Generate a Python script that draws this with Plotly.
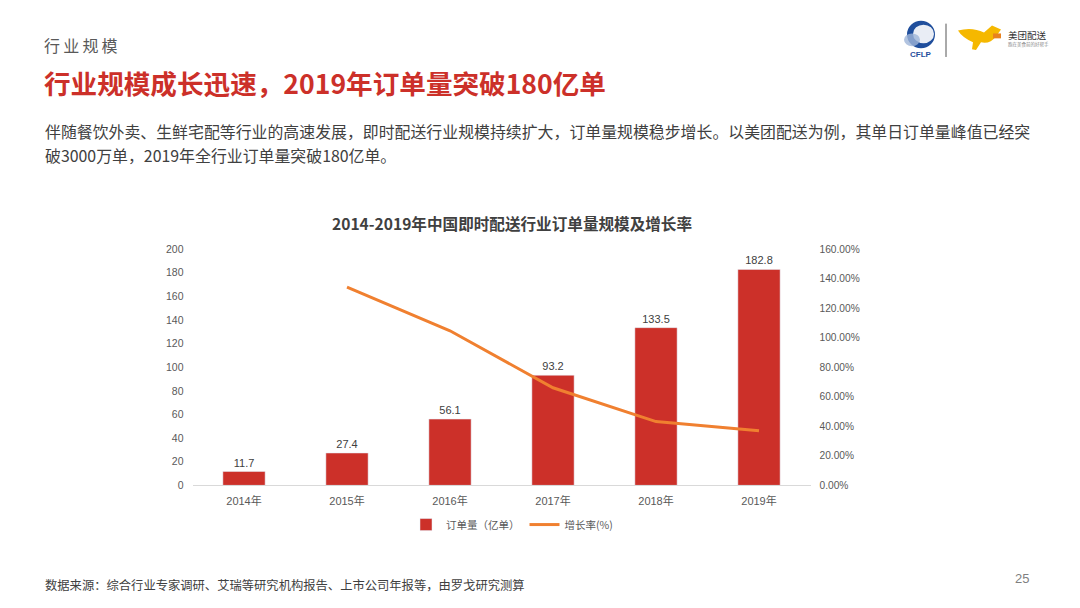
import plotly.graph_objects as go

years = ["2014年", "2015年", "2016年", "2017年", "2018年", "2019年"]
orders = [11.7, 27.4, 56.1, 93.2, 133.5, 182.8]
growth_years = ["2015年", "2016年", "2017年", "2018年", "2019年"]
growth = [134.2, 104.7, 66.1, 43.2, 36.9]
left_ticks = [0, 20, 40, 60, 80, 100, 120, 140, 160, 180, 200]
right_ticks = [0, 20, 40, 60, 80, 100, 120, 140, 160]
right_tick_text = [f"{v:.2f}%" for v in right_ticks]

RED = "#cc3029"
ORANGE = "#f08030"
FONT = "Liberation Sans, Noto Sans CJK SC, sans-serif"
CJK = "Noto Sans CJK SC, Liberation Sans, sans-serif"

W, H = 1080, 608
def px(x): return x / W
def py(y): return 1 - y / H

fig = go.Figure()
fig.add_trace(go.Bar(
    x=years, y=orders, name="订单量（亿单）", marker_color=RED, width=0.41,
    text=[f"{v}" for v in orders], textposition="outside",
    textfont=dict(size=11, color="#404040", family=FONT), cliponaxis=False,
))
fig.add_trace(go.Scatter(
    x=growth_years, y=growth, name="增长率(%)", mode="lines",
    line=dict(color=ORANGE, width=3), yaxis="y2",
))

fig.update_layout(
    width=W, height=H, margin=dict(l=0, r=0, t=0, b=0),
    paper_bgcolor="white", plot_bgcolor="white",
    font=dict(family=CJK, color="#595959"),
    showlegend=True,
    legend=dict(orientation="h", x=px(512), xanchor="center", y=py(529), yanchor="middle",
                font=dict(size=10.5, color="#595959", family=CJK), itemwidth=30,
                traceorder="normal"),
    xaxis=dict(domain=[px(192.5), px(810.5)], showline=True, linecolor="#d9d9d9", linewidth=1,
               ticks="", tickfont=dict(size=11, color="#595959", family=FONT), showgrid=False,
               anchor="y", ticklabelstandoff=5),
    yaxis=dict(domain=[py(489), py(248)], range=[0, 200], tickvals=left_ticks, showgrid=False,
               zeroline=False, showline=False, tickfont=dict(size=10.5, color="#595959", family=FONT),
               ticklabelstandoff=8),
    yaxis2=dict(overlaying="y", side="right", range=[0, 160], tickvals=right_ticks,
                ticktext=right_tick_text, showgrid=False, zeroline=False, showline=False,
                tickfont=dict(size=10.2, color="#595959", family=FONT), anchor="x",
                ticklabelstandoff=8),
)

ann = []
ann.append(dict(text="行\u2009业\u2009规\u2009模", x=px(42), y=py(40), xanchor="left", yanchor="middle",
                font=dict(size=16, color="#595959", family=CJK)))
ann.append(dict(text="<b>行业规模成长迅速，2019年订单量突破180亿单</b>", x=px(42), y=py(78),
                xanchor="left", yanchor="middle", font=dict(size=26.6, color=RED, family=CJK)))
ann.append(dict(text="伴随餐饮外卖、生鲜宅配等行业的高速发展，即时配送行业规模持续扩大，订单量规模稳步增长。以美团配送为例，其单日订单量峰值已经突",
                x=px(43), y=py(128), xanchor="left", yanchor="middle",
                font=dict(size=15.9, color="#404040", family=CJK)))
ann.append(dict(text="破3000万单，2019年全行业订单量突破180亿单。",
                x=px(43), y=py(152), xanchor="left", yanchor="middle",
                font=dict(size=15.9, color="#404040", family=CJK)))
ann.append(dict(text="<b>2014-2019年中国即时配送行业订单量规模及增长率</b>", x=px(512), y=py(221),
                xanchor="center", yanchor="middle", font=dict(size=15.6, color="#404040", family=CJK)))
ann.append(dict(text="数据来源：综合行业专家调研、艾瑞等研究机构报告、上市公司年报等，由罗戈研究测算",
                x=px(43), y=py(591), xanchor="left", yanchor="middle",
                font=dict(size=12.3, color="#404040", family=CJK)))
ann.append(dict(text="25", x=px(1022), y=py(584), xanchor="center", yanchor="middle",
                font=dict(size=13, color="#7f7f7f", family=FONT)))
# logos
ann.append(dict(text="<b>CFLP</b>", x=px(921), y=py(49), xanchor="center", yanchor="middle",
                font=dict(size=8, color="#1f4e9c", family=FONT)))
ann.append(dict(text="美团配送", x=px(1006), y=py(30), xanchor="left", yanchor="middle",
                font=dict(size=9.5, color="#333333", family=CJK)))
ann.append(dict(text="跑在美食前的好帮手", x=px(1006), y=py(39), xanchor="left", yanchor="middle",
                font=dict(size=4.5, color="#888888", family=CJK)))
for a in ann:
    a.update(xref="paper", yref="paper", showarrow=False)
fig.update_layout(annotations=ann)

shapes = [
    dict(type="circle", xref="paper", yref="paper", x0=px(907), x1=px(935), y0=py(43), y1=py(15),
         fillcolor="#1f4e9c", line=dict(width=0)),
    dict(type="circle", xref="paper", yref="paper", x0=px(913), x1=px(934), y0=py(38), y1=py(19),
         fillcolor="white", line=dict(width=0), opacity=0.9),
    dict(type="circle", xref="paper", yref="paper", x0=px(904), x1=px(920), y0=py(41), y1=py(28),
         fillcolor="#9fb5d8", line=dict(width=0), opacity=0.8),
    dict(type="line", xref="paper", yref="paper", x0=px(946), x1=px(946), y0=py(18), y1=py(52),
         line=dict(color="#555555", width=1)),
    dict(type="path", xref="paper", yref="paper",
         path=f"M {px(958)},{py(25)} Q {px(972)},{py(21)} {px(984)},{py(27)} L {px(992)},{py(20)} "
              f"L {px(1001)},{py(24)} L {px(996)},{py(31)} Q {px(990)},{py(39)} {px(981)},{py(37)} "
              f"L {px(976)},{py(45)} L {px(972)},{py(44)} L {px(973)},{py(37)} Q {px(962)},{py(32)} {px(958)},{py(25)} Z",
         fillcolor="#f5b800", line=dict(width=0)),
    dict(type="rect", xref="paper", yref="paper", x0=px(993), x1=px(1001), y0=py(33), y1=py(28),
         fillcolor="#e8821e", line=dict(width=0)),
]
fig.update_layout(shapes=shapes)

fig.write_html("out.html", config={"displayModeBar": False},
               post_script="document.body.style.margin='0';")
